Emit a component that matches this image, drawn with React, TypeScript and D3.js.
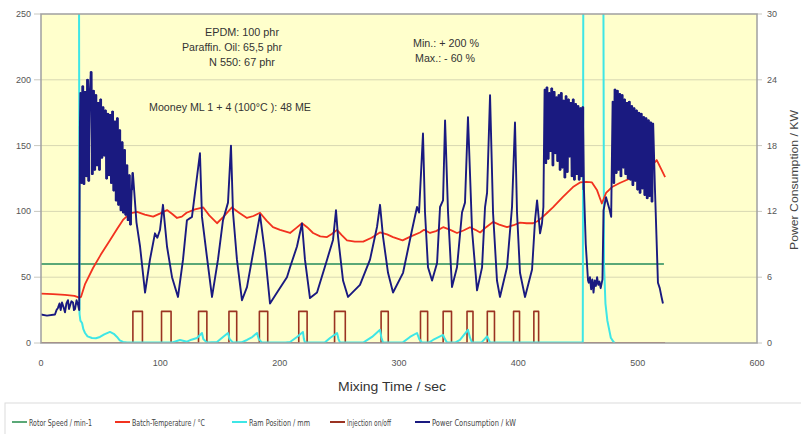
import React from 'react';
import * as d3 from 'd3';

// mixing time (sec) / value pairs
const rotorSpeed: [number, number][] = [[0, 60], [522, 60]];

const batchTemp: [number, number][] = [
  [0, 37.5], [10, 37.2], [20, 36.5], [28, 35.8], [32, 34.5], [33.5, 35], [37, 45], [43.6, 57], [50, 67],
  [57.8, 78], [64, 87], [68.7, 93.5], [74.6, 98.5], [80.5, 99.6], [87, 97.5], [94, 96], [100, 98.5],
  [105.6, 101], [110, 98], [114, 95], [118, 96], [122, 99], [129, 101.5], [136, 103], [141, 97],
  [147.5, 91], [153, 96], [160, 103], [166, 99], [172.6, 95], [178, 96.5], [183.5, 99], [189, 93],
  [194.4, 88], [200.3, 86], [208.7, 83.6], [214, 87.5], [218.7, 91], [223, 88], [228, 83.6], [234, 81],
  [239.7, 80.5], [244, 83], [248, 86], [252, 82], [256.4, 78], [263, 77], [270, 77], [277, 80], [284, 84],
  [290, 82.5], [295, 80.5], [303, 78], [310, 81], [317.6, 84], [321, 86], [326, 83.6], [331, 85], [337, 88],
  [343, 86], [348.6, 83.6], [354, 85.5], [359.5, 88], [364, 86], [368, 84], [373, 88], [378.8, 92],
  [384, 90], [390.5, 88], [396, 89.5], [401.4, 91.5], [407, 91], [412.3, 91], [416, 92.5], [420.7, 96],
  [424, 98.8], [429, 103], [437.4, 111], [445.8, 118.5], [451.7, 122], [457, 122.5], [461.7, 122],
  [466, 116], [470, 106], [473.5, 114], [478.5, 118.5], [485, 121.6], [493.6, 125], [502, 127.7],
  [510, 133], [516, 139], [518.7, 134], [523, 126],
];

const ramPosition: [number, number][] = [
  [0, 300], [31.8, 300], [32.3, 22], [33, 17], [34.4, 15.2], [35.5, 10.5], [36.9, 7.6], [39, 5], [42.7, 3.8],
  [46, 3.6], [49.4, 4.6], [53, 6.5], [57.8, 8.4], [61, 7], [63.7, 4.6], [66, 2], [68.7, 0.8], [72, 0.3],
  [110, 0.4], [116.5, 2.3], [122.3, 1], [126, 2.5], [130.7, 3.8], [134.9, 7.6], [136, 3], [139.1, 0.3],
  [147.5, 0.8], [152.5, 4.6], [156.7, 7.6], [158, 3], [160.9, 0.3], [168, 0.5], [172.6, 2.3], [177, 4.5],
  [181, 7.6], [182.5, 3], [185.2, 0.3], [205, 0.3], [208.7, 0.8], [214.5, 4.6], [219.5, 8.4], [220.3, 3],
  [221.2, 0.3], [238, 0.5], [242.2, 3.8], [248.1, 7.6], [249.3, 3], [250.6, 0.3], [270, 0.3], [277.4, 4.6],
  [284.1, 10], [285.3, 4], [286.6, 0.3], [303, 0.3], [309.2, 4.6], [315.1, 7.6], [317, 3], [319.3, 0.3],
  [325, 0.3], [328.5, 2.3], [336.9, 6.1], [338.5, 3], [340.2, 0.3], [347, 0.3], [351.1, 2.3], [357.8, 10],
  [359.5, 4], [361.2, 0.3], [369, 0.3], [373.8, 5], [375, 3], [376.3, 0.3], [454, 0.3], [454.5, 300],
  [471.2, 300], [471.8, 60], [473, 30], [474.6, 17], [477.5, 4], [480, 0.5], [481, 0.3],
];

const injectionOn = [77, 101, 132, 157.5, 183, 216, 246, 285, 318, 337, 357, 374, 396, 413];
const injectionOff = [85, 109, 139, 164, 190, 223, 255, 291, 324, 344, 362, 380, 401, 417];
const injectionLevel = 24;
const injectionEnd = 523;

// power consumption, kW (right axis)
const powerStart: [number, number][] = [
  [0, 2.6], [5, 2.5], [11.7, 2.6], [13, 3], [14.2, 3.2], [15.5, 3.6], [16.5, 3], [17.6, 3.7], [18.8, 3.3],
  [20.1, 2.8], [21.3, 3.6], [22.6, 3.9], [23.5, 3.1], [24.3, 3.4], [25.5, 3.8], [26.8, 3.7], [27.6, 3],
  [28.5, 3.1], [29.8, 3.9], [31, 3.5], [32, 3], [32.6, 19.7],
];
const powerBand1: [number, number][] = [
  [33, 22.8], [34, 14.6], [35, 23.4], [36, 14.5], [37, 22.9], [38, 15.2], [39, 24], [40, 14.8], [41, 23.1],
  [42, 24.7], [43, 15.4], [44, 23], [45, 15.8], [46, 22.6], [47, 16.2], [48, 21.9], [49, 15.8], [50, 22.2],
  [51, 16.9], [52, 21.5], [53, 17.1], [54, 21.2], [55, 15], [56, 20.9], [57, 15.3], [58, 20.8], [59, 14.6],
  [60, 21.1], [61, 13.9], [62, 20.2], [63, 13], [64, 20.5], [65, 12.6], [66, 19.4], [67, 12.1], [68, 18.3],
  [69, 11.9], [70, 17.6], [71, 11.7], [72, 16.2], [73, 11.2], [74, 15.3], [75, 10.8], [76, 14], [77, 15.5],
];
const powerCycles: [number, number][] = [
  [80, 11], [83, 8.8], [87.2, 4.6], [91.3, 7.6], [95.5, 10], [97.5, 9.6], [99.7, 10.3], [102.2, 12.6],
  [105.6, 8.8], [109.8, 6], [114.8, 4.2], [119, 7.6], [122.3, 11.2], [126.5, 11.5], [133.2, 17.3],
  [134.9, 11.5], [139.1, 7.8], [143.3, 4.2], [148.3, 7.6], [152.5, 11.2], [156.7, 12.8], [159.2, 18],
  [160.9, 11.9], [164.2, 7.6], [168.4, 3.9], [172.6, 5.1], [177.7, 8.2], [183.5, 11.7], [187.7, 8.2],
  [191.9, 3.6], [197.8, 4.6], [206.1, 6], [208.7, 6.9], [214.5, 8.8], [218.7, 10.9], [221.2, 7.6],
  [225.4, 4.1], [231.3, 4.6], [239.7, 7.6], [244.7, 9.4], [247.2, 12.1], [248.9, 9.7], [253.1, 5.7],
  [257.3, 4.2], [267.3, 5.3], [275.7, 7.6], [281.6, 10.6], [284.1, 12.6], [286.6, 9.7], [290.8, 6.4],
  [295, 4.6], [303.4, 6.4], [310.9, 10.3], [315.1, 12.4], [316.8, 11.9], [320.1, 19.1], [321.8, 11.9],
  [324.3, 6.9], [327.7, 5.7], [331.9, 7.3], [334.4, 12.4], [336.9, 13], [338.6, 20.3], [341.1, 11.9],
  [344.4, 5.1], [348.6, 6.9], [352.8, 11.9], [355.3, 12.8], [357.8, 20.6], [361.2, 10.3], [365.4, 4.8],
  [369.6, 6.9], [372.1, 12.4], [373.8, 13.7], [376.3, 22.6], [378.8, 11.9], [382.1, 5.7], [384.6, 4.2],
  [390.5, 6.9], [394.7, 12.4], [397.2, 20.1], [398.9, 11.9], [401.4, 6.4], [405.6, 4.2], [411.5, 6.7],
  [414, 11.2], [415.7, 13], [416.5, 12.1], [418.2, 10], [419.8, 10.9], [421, 12.4],
];
const powerBand2: [number, number][] = [
  [422, 23.1], [423, 16.4], [424, 23.3], [425, 16.8], [426, 22.8], [427, 17.5], [428, 23.2], [429, 16.2],
  [430, 22.9], [431, 17.3], [432, 22.4], [433, 16.6], [434, 22.6], [435, 15.8], [436, 22.8], [437, 16],
  [438, 22.1], [439, 15.1], [440, 22.5], [441, 15.6], [442, 22.2], [443, 17], [444, 21.9], [445, 15.2],
  [446, 22.2], [447, 14.9], [448, 21.8], [449, 15.4], [450, 21.6], [451, 14.9], [452, 21.4], [453, 15.2],
  [454, 21.5], [455, 14],
];
const powerRamUp: [number, number][] = [
  [456.5, 9], [458.4, 5.7], [459, 5.5], [460, 6], [461, 4.9], [462, 5.8], [463, 4.6], [464, 5.7], [465, 5.2],
  [466, 6], [467, 5.3], [468, 5.6], [469, 5], [470.5, 5.8], [471.4, 12.1], [473.5, 13.3], [476.6, 12.1],
  [477.8, 11.5],
];
const powerBand3: [number, number][] = [
  [479, 22], [480, 14.6], [481, 23.1], [482, 15.5], [483, 23], [484, 15.8], [485, 22.7], [486, 15.2],
  [487, 22.6], [488, 16], [489, 22.2], [490, 15.4], [491, 21.9], [492, 15], [493, 22], [494, 14.9],
  [495, 21.6], [496, 14.4], [497, 21.4], [498, 14.8], [499, 21.2], [500, 14], [501, 21], [502, 13.7],
  [503, 20.9], [504, 14.1], [505, 20.6], [506, 13.5], [507, 20.5], [508, 13.2], [509, 20.3], [510, 13.4],
  [511, 20.1], [512, 12.9], [513, 20],
];
const powerEnd: [number, number][] = [[514.5, 14], [517, 5.5], [518.5, 5], [520, 4.2], [521.2, 3.6]];

const xTicks = [0, 100, 200, 300, 400, 500, 600];
const leftTicks = [0, 50, 100, 150, 200, 250];
const rightTicks = [0, 6, 12, 18, 24, 30];

const notes = [
  { text: 'EPDM: 100 phr', x: 242, y: 36, w: 74 },
  { text: 'Paraffin. Oil: 65,5 phr', x: 232, y: 51, w: 100 },
  { text: 'N 550: 67 phr', x: 242, y: 66, w: 66 },
  { text: 'Mooney ML 1 + 4 (100°C ): 48 ME', x: 230, y: 111, w: 162 },
  { text: 'Min.: + 200 %', x: 446, y: 47, w: 66 },
  { text: 'Max.: - 60 %', x: 445, y: 62, w: 60 },
];

const legendNames = ['Rotor Speed / min-1', 'Batch-Temperature / °C', 'Ram Position / mm', 'Injection on/off', 'Power Consumption / kW'];
const legendColors = ['#5aa877', '#f2321f', '#3ee6e6', '#9a3322', '#1a1a80'];
const legendX = [12, 115, 232, 330, 415];
const legendW = [63, 73, 61, 44, 84];

const W = 801;
const H = 434;
const plot = { left: 41, right: 757, top: 14, bottom: 343 };
const font = "'Liberation Sans', Arial, sans-serif";
const narrow = "'Liberation Sans Narrow', 'DejaVu Sans Condensed', 'Liberation Sans', sans-serif";

export default function App() {
  const x = d3.scaleLinear().domain([0, 600]).range([plot.left, plot.right]);
  const yL = d3.scaleLinear().domain([0, 250]).range([plot.bottom, plot.top]);
  const yR = d3.scaleLinear().domain([0, 30]).range([plot.bottom, plot.top]);

  const lineL = d3.line<[number, number]>().x(d => x(d[0])).y(d => yL(d[1]));
  const lineR = d3.line<[number, number]>().x(d => x(d[0])).y(d => yR(d[1]));
  const stepR = d3.line<[number, number]>().x(d => x(d[0])).y(d => yR(d[1])).curve(d3.curveStep);

  // build the on/off step trace from the pulse times
  const injection: [number, number][] = [[0, 0]];
  injectionOn.forEach((t, i) => {
    injection.push([t, 0], [t, injectionLevel], [injectionOff[i], injectionLevel], [injectionOff[i], 0]);
  });
  injection.push([injectionEnd, 0]);

  const power = [
    ...powerStart, ...powerBand1, ...powerCycles, ...powerBand2,
    ...powerRamUp, ...powerBand3, ...powerEnd,
  ];
  const navy = legendColors[4];

  return (
    <svg width={W} height={H} style={{ position: 'absolute', left: 0, top: 0, background: '#fff' }}>
      <defs>
        <clipPath id="plot-clip">
          <rect x={plot.left} y={plot.top} width={plot.right - plot.left} height={plot.bottom - plot.top} />
        </clipPath>
      </defs>

      <rect x={plot.left} y={plot.top} width={plot.right - plot.left} height={plot.bottom - plot.top} fill="#ffffcc" />

      {leftTicks.slice(1, -1).map(v => (
        <line key={'g' + v} x1={plot.left} x2={plot.right} y1={yL(v)} y2={yL(v)} stroke="#d8d8b2" strokeWidth={1} />
      ))}

      {/* left axis */}
      {leftTicks.map(v => (
        <g key={'l' + v}>
          <line x1={plot.left - 7} x2={plot.left} y1={yL(v)} y2={yL(v)} stroke="#c8c8c0" />
          <text x={31} y={yL(v) + 3} textAnchor="end" fontSize={9} fontFamily={font} fill="#555">{v}</text>
        </g>
      ))}

      {/* right axis */}
      {rightTicks.map(v => (
        <g key={'r' + v}>
          <line x1={plot.right} x2={plot.right + 5} y1={yR(v)} y2={yR(v)} stroke="#c8c8c0" />
          <text x={767} y={yR(v) + 3} textAnchor="start" fontSize={9} fontFamily={font} fill="#555">{v}</text>
        </g>
      ))}
      <text transform="translate(798, 180) rotate(-90)" textAnchor="middle" fontSize={11} fontFamily={font}
        fill="#444" textLength={140} lengthAdjust="spacingAndGlyphs">Power Consumption / KW</text>

      {/* bottom axis */}
      {xTicks.map(v => (
        <text key={'x' + v} x={x(v)} y={366} textAnchor="middle" fontSize={9} fontFamily={font} fill="#555">{v}</text>
      ))}
      <text x={392} y={391} textAnchor="middle" fontSize={12.5} fontFamily={font} fill="#333"
        textLength={108} lengthAdjust="spacingAndGlyphs">Mixing Time / sec</text>

      {/* series */}
      <g clipPath="url(#plot-clip)" fill="none" strokeLinejoin="round">
        <path d={lineL(rotorSpeed) ?? ''} stroke={legendColors[0]} strokeWidth={2} />
        <path d={lineL(injection) ?? ''} stroke={legendColors[3]} strokeWidth={1.6} />
        <path d={lineL(ramPosition) ?? ''} stroke={legendColors[2]} strokeWidth={2} />
        <path d={lineL(batchTemp) ?? ''} stroke={legendColors[1]} strokeWidth={1.8} />
        <path d={lineR(power) ?? ''} stroke={navy} strokeWidth={1.9} />
        {[powerBand1, powerBand2, powerBand3].map((band, i) => (
          <path key={'b' + i} d={stepR(band) ?? ''} stroke={navy} strokeWidth={1.6} />
        ))}
      </g>

      <rect x={plot.left} y={plot.top} width={plot.right - plot.left} height={plot.bottom - plot.top}
        fill="none" stroke="#a0a0a0" strokeWidth={1.5} />

      {/* annotations */}
      <g fontSize={10} fontFamily={font} fill="#333" textAnchor="middle">
        {notes.map(n => (
          <text key={n.text} x={n.x} y={n.y} textLength={n.w} lengthAdjust="spacingAndGlyphs">{n.text}</text>
        ))}
      </g>

      {/* legend */}
      <rect x={5} y={403} width={W} height={40} fill="#fff" stroke="#dcdcdc" />
      {legendNames.map((name, i) => (
        <g key={name}>
          <line x1={legendX[i]} x2={legendX[i] + 15} y1={422} y2={422} stroke={legendColors[i]} strokeWidth={2} />
          <text x={legendX[i] + 17} y={425.5} fontSize={9.5} fontFamily={narrow} fill="#444"
            textLength={legendW[i]} lengthAdjust="spacingAndGlyphs">{name}</text>
        </g>
      ))}
    </svg>
  );
}
